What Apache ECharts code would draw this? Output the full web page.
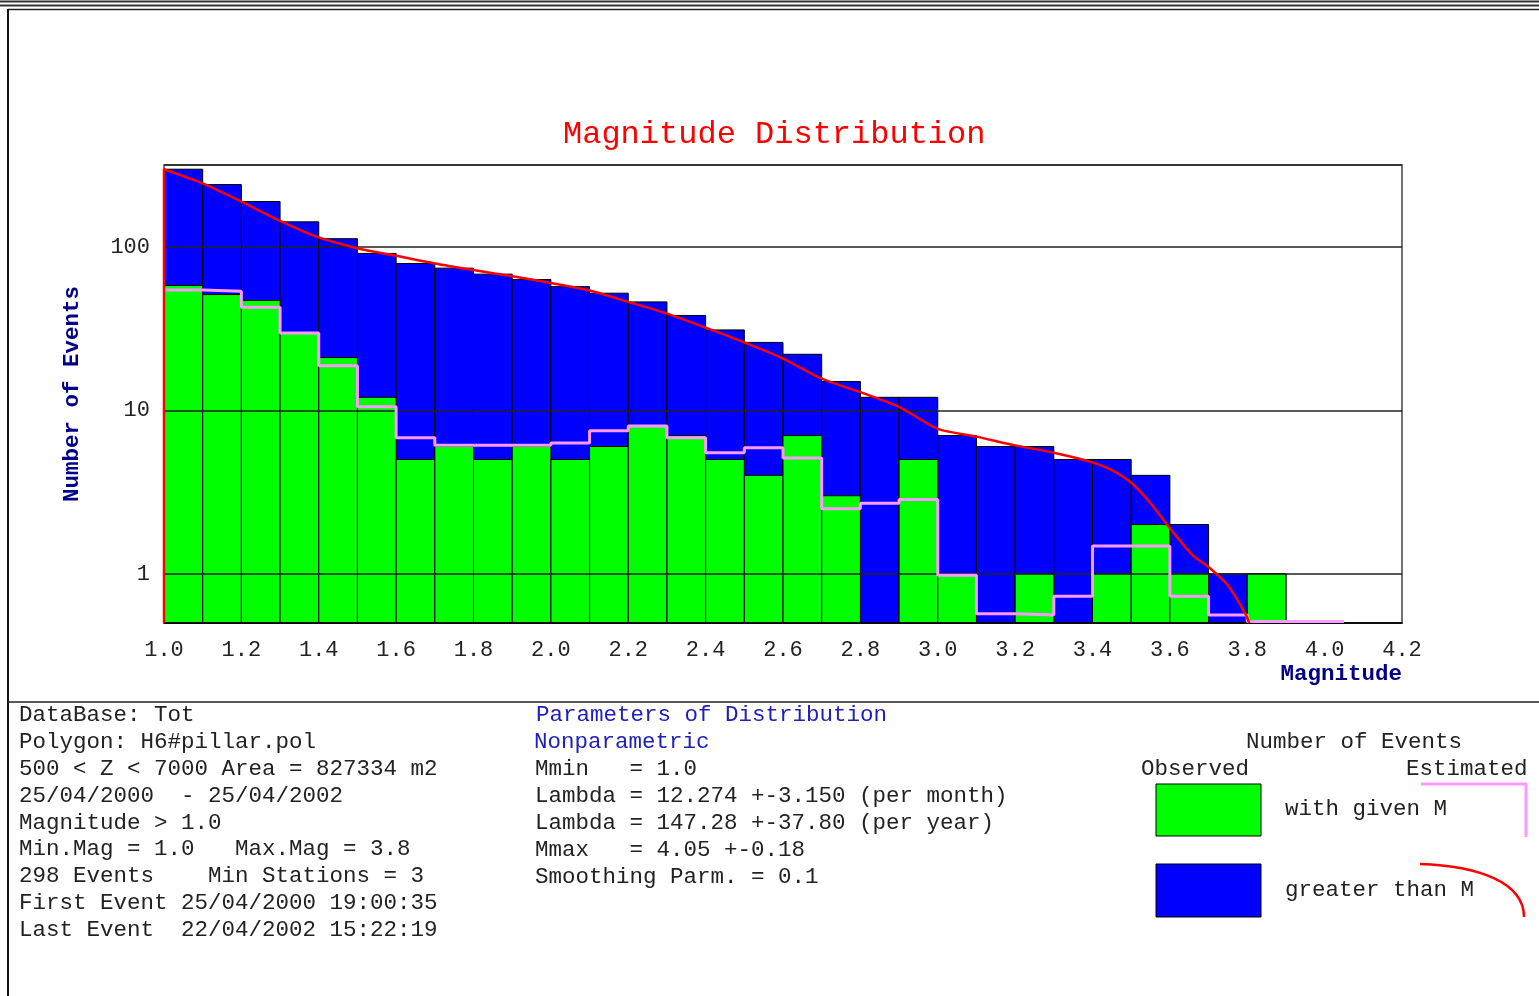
<!DOCTYPE html>
<html>
<head>
<meta charset="utf-8">
<script src="https://cdn.jsdelivr.net/npm/echarts@6/dist/echarts.min.js"></script>
<style>
html, body { margin: 0; padding: 0; background: #fff; }
#chart { width: 1539px; height: 996px; }
</style>
</head>
<body>
<div id="chart"></div>
<script>
// ---------- data ----------
const binStarts = [1.0, 1.1, 1.2, 1.3, 1.4, 1.5, 1.6, 1.7, 1.8, 1.9, 2.0, 2.1, 2.2, 2.3, 2.4,
                   2.5, 2.6, 2.7, 2.8, 2.9, 3.0, 3.1, 3.2, 3.3, 3.4, 3.5, 3.6, 3.7, 3.8];
const binWidth = 0.1;
// observed events with given M (green)
const observedCounts = [58, 51, 47, 30, 21, 12, 5, 6, 5, 6, 5, 6, 8, 7, 5,
                        4, 7, 3, 0, 5, 1, 0, 1, 0, 1, 2, 1, 0, 1];
// observed events greater than M (blue)
const cumulativeCounts = [298, 240, 189, 142, 112, 91, 79, 74, 68, 63, 57, 52, 46, 38, 31,
                          26, 22, 15, 12, 12, 7, 6, 6, 5, 5, 4, 2, 1, 1];
// estimated, greater than M (red curve)
const estCumX = [1.0, 1.1, 1.2, 1.3, 1.4, 1.5, 1.6, 1.7, 1.8, 1.9, 2.0, 2.1, 2.2, 2.3, 2.4,
                 2.5, 2.6, 2.7, 2.8, 2.9, 3.0, 3.1, 3.2, 3.3, 3.4, 3.45, 3.5, 3.55, 3.6, 3.66,
                 3.7, 3.75, 3.795, 3.805];
const estCumY = [298, 244, 189, 144, 114, 98, 88, 79, 72, 66, 60, 54, 46, 39, 32,
                 26, 20.7, 15.6, 12.9, 10.5, 7.7, 6.9, 6.1, 5.5, 4.8, 4.3, 3.6, 2.7, 1.9, 1.29,
                 1.1, 0.85, 0.57, 0.5];
// estimated, with given M (pink step line), value per bin start
const estBinX = [1.0, 1.1, 1.2, 1.3, 1.4, 1.5, 1.6, 1.7, 1.8, 1.9, 2.0, 2.1, 2.2, 2.3, 2.4, 2.5,
                 2.6, 2.7, 2.8, 2.9, 3.0, 3.1, 3.2, 3.3, 3.4, 3.5, 3.6, 3.7, 3.8, 3.9, 4.0, 4.05];
const estBinY = [54.3, 53.5, 42.6, 29.7, 18.7, 10.5, 6.8, 6.1, 6.1, 6.1, 6.3, 7.5, 8.0, 6.8, 5.5, 5.9,
                 5.1, 2.5, 2.7, 2.85, 0.98, 0.57, 0.56, 0.73, 1.48, 1.48, 0.73, 0.56, 0.51, 0.51, 0.51, 0.51];
// axes
const xMin = 1.0, xMax = 4.2, xInterval = 0.2;
const yMin = 0.5, yMax = 316.2;
const yTickLabels = [1, 10, 100];

// ---------- text blocks ----------
const infoLines = [
  'DataBase: Tot',
  'Polygon: H6#pillar.pol',
  '500 < Z < 7000 Area = 827334 m2',
  '25/04/2000  - 25/04/2002',
  'Magnitude > 1.0',
  'Min.Mag = 1.0   Max.Mag = 3.8',
  '298 Events    Min Stations = 3',
  'First Event 25/04/2000 19:00:35',
  'Last Event  22/04/2002 15:22:19'
];
const paramHeader = ['Parameters of Distribution', 'Nonparametric'];
const paramLines = [
  'Mmin   = 1.0',
  'Lambda = 12.274 +-3.150 (per month)',
  'Lambda = 147.28 +-37.80 (per year)',
  'Mmax   = 4.05 +-0.18',
  'Smoothing Parm. = 0.1'
];

const MONO = "'Liberation Mono', 'Courier New', monospace";
const TXT = '22.5px ' + MONO;
const NAVY = '#00008b';
const HDR = '#2020b8';
const TEXT_COLOR = '#222';

const graphics = [];
function hline(x1, x2, y, w, c) {
  graphics.push({ type: 'line', silent: true, shape: { x1: x1, y1: y, x2: x2, y2: y }, style: { stroke: c || '#222', lineWidth: w } });
}
function vline(x, y1, y2, w, c) {
  graphics.push({ type: 'line', silent: true, shape: { x1: x, y1: y1, x2: x, y2: y2 }, style: { stroke: c || '#222', lineWidth: w } });
}
hline(0, 1539, 1.5, 2, '#333');
hline(0, 1539, 5.5, 2, '#333');
hline(8, 1539, 9.5, 1.5, '#222');
vline(8, 9, 996, 2, '#111');
hline(8, 1539, 702, 1.5, '#222');

function txt(t, x, y, color, font) {
  graphics.push({ type: 'text', silent: true, x: x, y: y,
    style: { text: t, font: font || TXT, fill: color || TEXT_COLOR, align: 'left', verticalAlign: 'middle' } });
}
infoLines.forEach(function (t, i) { txt(t, 19, 715 + i * 26.9); });
txt(paramHeader[0], 536, 715, HDR);
txt(paramHeader[1], 534, 742, HDR);
paramLines.forEach(function (t, i) { txt(t, 535, 769 + i * 26.9); });

// legend block
txt('Number of Events', 1246, 742);
txt('Observed', 1141, 769);
txt('Estimated', 1406, 769);
txt('with given M', 1285, 809);
txt('greater than M', 1285, 890);
graphics.push({ type: 'rect', silent: true, shape: { x: 1156, y: 784, width: 105, height: 52 },
  style: { fill: '#00ff00', stroke: '#000', lineWidth: 1 } });
graphics.push({ type: 'rect', silent: true, shape: { x: 1156, y: 864, width: 105, height: 53 },
  style: { fill: '#0000ff', stroke: '#000', lineWidth: 1 } });
graphics.push({ type: 'polyline', silent: true, shape: { points: [[1421, 784], [1526, 784], [1526, 837]] },
  style: { stroke: '#ff99ff', lineWidth: 3, fill: null } });
graphics.push({ type: 'bezierCurve', silent: true,
  shape: { x1: 1420, y1: 864, cpx1: 1478, cpy1: 866, cpx2: 1524, cpy2: 882, x2: 1524, y2: 917 },
  style: { stroke: '#ff0000', lineWidth: 2.5, fill: null } });

function barRenderer(fill) {
  return function (params, api) {
    const x0 = api.value(0);
    const v = api.value(1);
    if (!(v > 0)) return;
    const tl = api.coord([x0, v]);
    const br = api.coord([x0 + binWidth, yMin]);
    return {
      type: 'rect',
      shape: { x: tl[0], y: tl[1], width: br[0] - tl[0], height: br[1] - tl[1] },
      style: { fill: fill, stroke: '#000', lineWidth: 1 }
    };
  };
}

const chart = echarts.init(document.getElementById('chart'), null, { renderer: 'canvas' });
chart.setOption({
  animation: false,
  backgroundColor: '#ffffff',
  title: {
    text: 'Magnitude Distribution',
    left: 558, top: 114,
    textStyle: { fontFamily: MONO, fontSize: 32, fontWeight: 'normal', color: '#ff0000' }
  },
  grid: {
    left: 164, right: 137, top: 165, bottom: 373,
    show: true, borderColor: '#444', borderWidth: 1.5, backgroundColor: 'transparent'
  },
  xAxis: {
    type: 'value', min: xMin, max: xMax, interval: xInterval, z: 3,
    axisLine: { show: true, lineStyle: { color: '#000', width: 1.5 } },
    axisTick: { show: false },
    splitLine: { show: false },
    axisLabel: {
      margin: 16, fontFamily: MONO, fontSize: 22, color: TEXT_COLOR,
      formatter: function (v) { return v.toFixed(1); }
    },
    name: 'Magnitude', nameLocation: 'end', nameGap: 0,
    nameTextStyle: {
      fontFamily: MONO, fontSize: 22.5, fontWeight: 'bold', color: NAVY,
      align: 'right', verticalAlign: 'top', padding: [40, 0, 0, 0]
    }
  },
  yAxis: {
    type: 'log', logBase: 10, min: yMin, max: yMax, z: 3,
    axisLine: { show: false },
    axisTick: { show: false },
    splitLine: { show: true, lineStyle: { color: '#222', width: 1.5 } },
    axisLabel: {
      margin: 14, fontFamily: MONO, fontSize: 22, color: TEXT_COLOR,
      formatter: function (v) {
        for (let i = 0; i < yTickLabels.length; i++) {
          if (Math.abs(v - yTickLabels[i]) < 1e-6) return String(yTickLabels[i]);
        }
        return '';
      }
    },
    name: 'Number of Events', nameLocation: 'middle', nameGap: 80,
    nameTextStyle: { fontFamily: MONO, fontSize: 22.5, fontWeight: 'bold', color: NAVY }
  },
  graphic: graphics,
  series: [
    {
      name: 'greater than M', type: 'custom', z: 1,
      renderItem: barRenderer('#0000ff'),
      encode: { x: 0, y: 1 },
      data: binStarts.map(function (x, i) { return [x, cumulativeCounts[i]]; })
    },
    {
      name: 'with given M', type: 'custom', z: 1,
      renderItem: barRenderer('#00ff00'),
      encode: { x: 0, y: 1 },
      data: binStarts.map(function (x, i) { return [x, observedCounts[i]]; })
                     .filter(function (d) { return d[1] > 0; })
    },
    {
      name: 'Estimated with given M', type: 'line', step: 'end', z: 5,
      symbol: 'none', clip: true,
      lineStyle: { color: '#ff99ff', width: 3 },
      data: estBinX.map(function (x, i) { return [x, estBinY[i]]; })
    },
    {
      name: 'Estimated greater than M (edge)', type: 'line', z: 6,
      symbol: 'none', clip: true,
      lineStyle: { color: '#ff0000', width: 2.5 },
      data: [[estCumX[0], yMin], [estCumX[0], estCumY[0]]]
    },
    {
      name: 'Estimated greater than M', type: 'line', z: 6,
      symbol: 'none', clip: true, smooth: 0.25,
      lineStyle: { color: '#ff0000', width: 2.5 },
      data: estCumX.map(function (x, i) { return [x, estCumY[i]]; })
    }
  ]
});
</script>
</body>
</html>
